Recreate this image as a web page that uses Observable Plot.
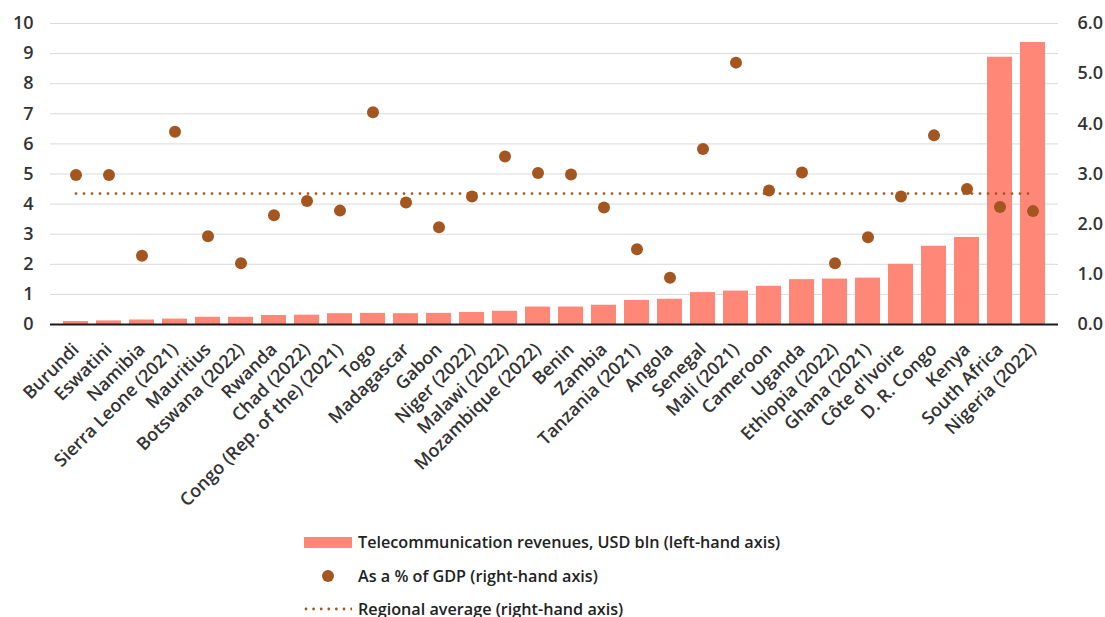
<!DOCTYPE html>
<html>
<head>
<meta charset="utf-8">
<script src="https://cdn.jsdelivr.net/npm/d3@7"></script>
<script src="https://cdn.jsdelivr.net/npm/@observablehq/plot@0.6"></script>
<style>
  html, body { margin: 0; padding: 0; background: #fff; }
  #chart svg { display: block; }
  .legend { position: relative; height: 97px; font-family: "Open Sans", Lato, sans-serif; font-weight: 600; font-size: 16.2px; color: #222; }
  .legend .row { position: absolute; left: 304px; display: flex; align-items: center; height: 24px; white-space: nowrap; }
  .legend .sw { width: 48px; display: flex; justify-content: center; align-items: center; margin-right: 6px; }
</style>
</head>
<body>
<div id="chart"></div>
<div class="legend">
  <div class="row" style="top:10px"><span class="sw"><span style="display:block;width:48px;height:11px;background:#ff8777"></span></span>Telecommunication revenues, USD bln (left-hand axis)</div>
  <div class="row" style="top:44px"><span class="sw"><span style="display:block;width:12px;height:12px;border-radius:6px;background:#a3561f"></span></span>As a % of GDP (right-hand axis)</div>
  <div class="row" style="top:77px"><span class="sw"><svg width="48" height="6"><line x1="2" x2="48" y1="3" y2="3" stroke="#a3561f" stroke-width="2.8" stroke-linecap="round" stroke-dasharray="0,7.6"/></svg></span>Regional average (right-hand axis)</div>
</div>
<script>
const categories = ["Burundi","Eswatini","Namibia","Sierra Leone (2021)","Mauritius","Botswana (2022)","Rwanda","Chad (2022)","Congo (Rep. of the) (2021)","Togo","Madagascar","Gabon","Niger (2022)","Malawi (2022)","Mozambique (2022)","Benin","Zambia","Tanzania (2021)","Angola","Senegal","Mali (2021)","Cameroon","Uganda","Ethiopia (2022)","Ghana (2021)","Côte d'Ivoire","D. R. Congo","Kenya","South Africa","Nigeria (2022)"];
const revenues = [0.10,0.12,0.15,0.18,0.24,0.24,0.30,0.31,0.36,0.37,0.36,0.37,0.40,0.44,0.58,0.58,0.64,0.80,0.84,1.06,1.11,1.27,1.49,1.51,1.54,2.00,2.60,2.89,8.88,9.37];
const gdpShare = [2.98,2.98,1.37,3.84,1.76,1.22,2.18,2.46,2.27,4.23,2.43,1.94,2.55,3.35,3.02,2.99,2.33,1.50,0.93,3.50,5.22,2.67,3.03,1.22,1.74,2.55,3.77,2.70,2.34,2.26];
const regionalAverage = 2.61;
const leftTicks = [0,1,2,3,4,5,6,7,8,9,10];
const rightTicks = [0,1,2,3,4,5,6];
const leftMax = 10, rightMax = 6;

const toLeft = v => v * leftMax / rightMax;
const data = categories.map((c, i) => ({country: c, rev: revenues[i], pct: gdpShare[i]}));
const avgData = categories.map(c => ({country: c, avg: regionalAverage}));

const chart = Plot.plot({
  width: 1105,
  height: 520,
  marginTop: 23,
  marginBottom: 196,
  marginLeft: 50,
  marginRight: 47,
  style: {fontFamily: "'Open Sans', Lato, sans-serif", fontSize: "18px", fontWeight: 600, color: "#333", background: "#fff"},
  x: {domain: categories, padding: 0.25, label: null},
  y: {domain: [0, leftMax], label: null},
  marks: [
    Plot.gridY(leftTicks, {stroke: "#d9d9d9", strokeOpacity: 1, strokeWidth: 1}),
    Plot.axisY(leftTicks, {anchor: "left", tickSize: 0, tickPadding: 17, label: null, tickFormat: d => String(d)}),
    Plot.axisY(rightTicks.map(toLeft), {anchor: "right", tickSize: 0, tickPadding: 19, label: null, tickFormat: d => (d * rightMax / leftMax).toFixed(1)}),
    Plot.barY(data, {x: "country", y: "rev", fill: "#ff8777"}),
    Plot.ruleY([0], {stroke: "#1a1a1a", strokeWidth: 2}),
    Plot.lineY(avgData, {x: "country", y: d => toLeft(d.avg), stroke: "#a3561f", strokeWidth: 2.8, strokeLinecap: "round", strokeDasharray: "0,8"}),
    Plot.dot(data, {x: "country", y: d => toLeft(d.pct), r: 6, fill: "#a3561f"}),
    Plot.axisX({tickRotate: -45, tickSize: 0, tickPadding: 22, fontSize: 18, fill: "#333", label: null})
  ]
});
document.getElementById("chart").appendChild(chart);
</script>
</body>
</html>
